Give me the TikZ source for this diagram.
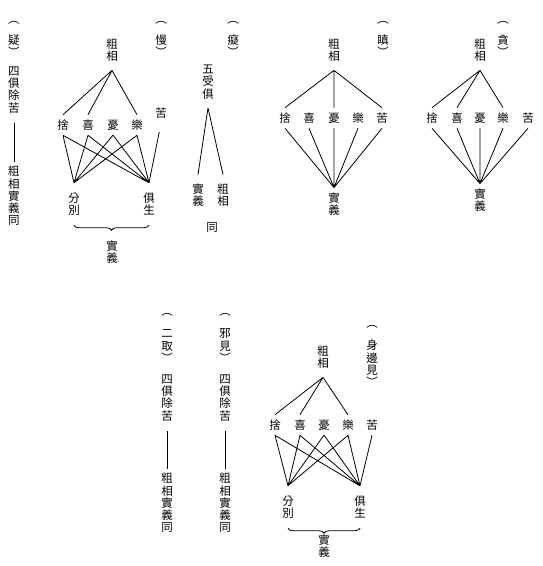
\documentclass[tikz,border=0pt]{standalone}
\usepackage{fontspec}
\newfontfamily\cjk{Noto Sans CJK TC}
\usetikzlibrary{decorations.pathreplacing}

\begin{document}
\begin{tikzpicture}[
  x=1pt, y=-1pt,
  vtxt/.style = {align=center, inner sep=0pt, outer ysep=5pt,
                 font=\cjk\fontsize{11.5}{12.2}\selectfont},
  ctop/.style = {vtxt, outer ysep=9pt},
  cbot/.style = {vtxt, outer ysep=10pt},
  ln/.style   = {line width=0.8pt},
  brc/.style  = {line width=0.8pt, decorate,
                 decoration={brace, mirror, amplitude=5pt}},
]
\useasboundingbox (0,0) rectangle (543,566);

% (疑)
\node[vtxt] (yiTag)  at (14,39)  {︵\\[8pt]疑\\︶};
\node[vtxt, outer ysep=4pt] (yiFour) at (14,90)  {四\\俱\\除\\苦};
\node[vtxt, outer ysep=4pt] (yiSame) at (14,196) {粗\\相\\實\\義\\同};
\draw[ln, shorten <=6pt] (yiFour.south) -- (yiSame.north);

% (慢)
\node[vtxt] (manTag)  at (161,39)  {︵\\[8pt]慢\\︶};
\node[ctop] (manCu)   at (112,50)  {粗\\相};
\node[vtxt] (manShe)  at (63,125)  {捨};
\node[vtxt] (manXi)   at (88,125)  {喜};
\node[vtxt] (manYou)  at (113,125) {憂};
\node[vtxt] (manLe)   at (137,125) {樂};
\node[vtxt] (manKu)   at (161,113) {苦};
\node[cbot] (manFen)  at (74,204)  {分\\別};
\node[cbot] (manJu)   at (149,204) {俱\\生};
\node[vtxt] (manReal) at (112,252) {實\\義};

\draw[ln] (manCu.south) -- (manShe.north)
          (manCu.south) -- (manXi.north)
          (manCu.south) -- (manLe.north);
\draw[ln] (manShe.south) -- (manFen.north) (manShe.south) -- (manJu.north)
          (manXi.south)  -- (manFen.north) (manXi.south)  -- (manJu.north)
          (manYou.south) -- (manFen.north) (manYou.south) -- (manJu.north)
          (manLe.south)  -- (manFen.north) (manLe.south)  -- (manJu.north);
\draw[ln, shorten <=9pt] (manKu.south) -- (manJu.north);
\draw[brc] (manFen.south) -- (manJu.south);

% (癡)
\node[vtxt] (chiTag)  at (233,39)  {︵\\[8pt]癡\\︶};
\node[ctop] (chiFive) at (208,82)  {五\\受\\俱};
\node[ctop] (chiReal) at (198,195) {實\\義};
\node[ctop] (chiCu)   at (223,195) {粗\\相};
\node[vtxt] (chiSame) at (212,227) {同};
\draw[ln] (chiFive.south) -- (chiReal.north)
          (chiFive.south) -- (chiCu.north);

% (瞋)
\node[vtxt] (chenTag)  at (383,39)  {︵\\[8pt]瞋\\︶};
\node[ctop] (chenCu)   at (334,50)  {粗\\相};
\node[vtxt] (chenShe)  at (285,118) {捨};
\node[vtxt] (chenXi)   at (309,118) {喜};
\node[vtxt] (chenYou)  at (334,118) {憂};
\node[vtxt] (chenLe)   at (358,118) {樂};
\node[vtxt] (chenKu)   at (382,118) {苦};
\node[vtxt] (chenReal) at (334,204) {實\\義};
\draw[ln] (chenCu.south) -- (chenShe.north)
          (chenCu.south) -- (chenYou.north)
          (chenCu.south) -- (chenKu.north);
\draw[ln] (chenShe.south) -- (chenReal.north)
          (chenXi.south)  -- (chenReal.north)
          (chenYou.south) -- (chenReal.north)
          (chenLe.south)  -- (chenReal.north)
          (chenKu.south)  -- (chenReal.north);

% (貪)
\node[vtxt] (tanTag)  at (503,39)  {︵\\[8pt]貪\\︶};
\node[ctop] (tanCu)   at (480,50)  {粗\\相};
\node[vtxt] (tanShe)  at (432,118) {捨};
\node[vtxt] (tanXi)   at (457,118) {喜};
\node[vtxt] (tanYou)  at (480,118) {憂};
\node[vtxt] (tanLe)   at (503,118) {樂};
\node[vtxt] (tanKu)   at (528,118) {苦};
\node[vtxt] (tanReal) at (480,200) {實\\義};
\draw[ln] (tanCu.south) -- (tanShe.north)
          (tanCu.south) -- (tanXi.north)
          (tanCu.south) -- (tanLe.north);
\draw[ln] (tanShe.south) -- (tanReal.north)
          (tanXi.south)  -- (tanReal.north)
          (tanYou.south) -- (tanReal.north)
          (tanLe.south)  -- (tanReal.north)
          (tanKu.south)  -- (tanReal.north);

% (二取)
\node[vtxt] (erTag)  at (167,338) {︵\\[10pt]二\\取\\︶};
\node[vtxt, outer ysep=4pt] (erFour) at (167,398) {四\\俱\\除\\苦};
\node[vtxt, outer ysep=4pt] (erSame) at (167,503) {粗\\相\\實\\義\\同};
\draw[ln, shorten <=6pt] (erFour.south) -- (erSame.north);

% (邪見)
\node[vtxt] (xieTag)  at (225,338) {︵\\[10pt]邪\\見\\︶};
\node[vtxt, outer ysep=4pt] (xieFour) at (225,398) {四\\俱\\除\\苦};
\node[vtxt, outer ysep=4pt] (xieSame) at (225,503) {粗\\相\\實\\義\\同};
\draw[ln, shorten <=6pt] (xieFour.south) -- (xieSame.north);

% (身邊見)
\node[vtxt] (shenTag)  at (372,356) {︵\\[10pt]身\\邊\\見\\︶};
\node[ctop] (shenCu)   at (323,357) {粗\\相};
\node[vtxt] (shenShe)  at (275,425) {捨};
\node[vtxt] (shenXi)   at (300,425) {喜};
\node[vtxt] (shenYou)  at (324,425) {憂};
\node[vtxt] (shenLe)   at (348,425) {樂};
\node[vtxt] (shenKu)   at (372,425) {苦};
\node[cbot] (shenFen)  at (288,507) {分\\別};
\node[cbot] (shenJu)   at (360,507) {俱\\生};
\node[vtxt] (shenReal) at (324,546) {實\\義};

\draw[ln] (shenCu.south) -- (shenShe.north)
          (shenCu.south) -- (shenXi.north)
          (shenCu.south) -- (shenLe.north);
\draw[ln] (shenShe.south) -- (shenFen.north) (shenShe.south) -- (shenJu.north)
          (shenXi.south)  -- (shenFen.north) (shenXi.south)  -- (shenJu.north)
          (shenYou.south) -- (shenFen.north) (shenYou.south) -- (shenJu.north)
          (shenLe.south)  -- (shenFen.north) (shenLe.south)  -- (shenJu.north)
          (shenKu.south)  -- (shenJu.north);
\draw[brc] (shenFen.south) -- (shenJu.south);

\end{tikzpicture}
\end{document}
